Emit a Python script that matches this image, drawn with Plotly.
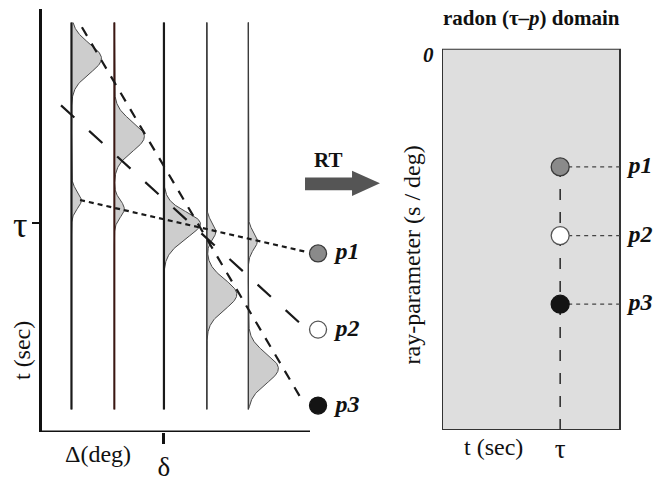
import numpy as np
import plotly.graph_objects as go

# ---------------- data ----------------
# Left panel: seismic section, offset Δ (deg) vs time t (s)
trace_offsets = [1.1, 2.7, 4.55, 6.15, 7.7]
trace_t_range = [0.52, 15.15]
p1_times = [7.23, 7.56, 8.00, 8.41, 8.77]
p1_amps = [0.37, 0.37, 0.37, 0.34, 0.34]
p3_times = [1.88, 4.83, 8.26, 10.80, 13.60]
p3_amps = [1.12, 1.12, 1.05, 1.12, 1.12]
p1_width = 0.32
p3_width = 0.56

event_names = ["p1", "p2", "p3"]
moveout_x0 = [1.42, 0.71, 1.49]
moveout_t0 = [7.23, 3.65, 0.70]
moveout_x1 = [9.81, 9.81, 9.74]
moveout_t1 = [9.18, 12.06, 14.86]
left_marker_x = 10.3
left_marker_t = [9.25, 12.13, 15.0]
left_label_x = 11.4

delta_axis_max = 10.0     # end of drawn Δ axis
t_axis_max = 16.0         # bottom of drawn t axis
tau_left = 8.11
delta = 4.55

# Right panel: radon (tau-p) domain
t_box_max = 12.2
p_box_max = 10.0
tau = 8.1
p_values = [3.1, 4.9, 6.7]
right_label_x = 13.6

# ---------------- styles ----------------
SERIF = "Liberation Serif"
marker_fill = ["#8a8a8a", "#ffffff", "#141414"]
marker_line = ["#3a3a3a", "#555555", "#141414"]
moveout_dash = ["5px,4px", "18px,20px", "10px,9px"]
trace_colors = ["#1a1a1a", "#3b1712", "#1a1a1a", "#3c3c3c", "#3c3c3c"]
trace_widths = [2.2, 2.0, 2.2, 1.3, 1.3]

W, H = 653, 482
L_PX_PER_UNIT = (310 - 42) / delta_axis_max
R_PX_PER_UNIT = (620 - 442) / t_box_max


def px(x, y):
    return x / W, 1 - y / H


fig = go.Figure()

# wavelets
t = np.arange(trace_t_range[0], trace_t_range[1] + 1e-9, 0.02)
for i, off in enumerate(trace_offsets):
    amp = (p1_amps[i] * np.exp(-0.5 * ((t - p1_times[i]) / p1_width) ** 2)
           + p3_amps[i] * np.exp(-0.5 * ((t - p3_times[i]) / p3_width) ** 2))
    xs = np.concatenate([off + amp, [off, off]])
    ys = np.concatenate([t, [t[-1], t[0]]])
    fig.add_trace(go.Scatter(x=xs, y=ys, mode="lines", fill="toself",
                             fillcolor="#cdcdcd",
                             line=dict(color="#4a4a4a", width=1),
                             xaxis="x", yaxis="y", hoverinfo="skip"))

# trace lines
for i, off in enumerate(trace_offsets):
    fig.add_trace(go.Scatter(x=[off, off], y=trace_t_range, mode="lines",
                             line=dict(color=trace_colors[i], width=trace_widths[i]),
                             xaxis="x", yaxis="y", hoverinfo="skip"))

# moveout lines
for i in range(3):
    fig.add_trace(go.Scatter(x=[moveout_x0[i], moveout_x1[i]],
                             y=[moveout_t0[i], moveout_t1[i]], mode="lines",
                             line=dict(color="#1a1a1a", width=2.2, dash=moveout_dash[i]),
                             xaxis="x", yaxis="y", hoverinfo="skip"))

# left markers and labels
fig.add_trace(go.Scatter(x=[left_marker_x] * 3, y=left_marker_t, mode="markers",
                         marker=dict(size=17, color=marker_fill,
                                     line=dict(color=marker_line, width=1.3)),
                         cliponaxis=False, xaxis="x", yaxis="y", hoverinfo="skip"))
fig.add_trace(go.Scatter(x=[left_label_x] * 3, y=left_marker_t, mode="text",
                         text=["<b><i>%s</i></b>" % n for n in event_names],
                         textfont=dict(family=SERIF, size=24, color="#111"),
                         cliponaxis=False, xaxis="x", yaxis="y", hoverinfo="skip"))

# right panel: vertical tau line
fig.add_trace(go.Scatter(x=[tau, tau], y=[p_box_max, p_values[0]], mode="lines",
                         line=dict(color="#333", width=1.6, dash="11px,12px"),
                         xaxis="x2", yaxis="y2", hoverinfo="skip"))
# horizontal dashed lines
for pv in p_values:
    fig.add_trace(go.Scatter(x=[tau, t_box_max], y=[pv, pv], mode="lines",
                             line=dict(color="#444", width=1.2, dash="4px,4px"),
                             xaxis="x2", yaxis="y2", hoverinfo="skip"))
fig.add_trace(go.Scatter(x=[tau] * 3, y=p_values, mode="markers",
                         marker=dict(size=18, color=marker_fill,
                                     line=dict(color=marker_line, width=1.3)),
                         cliponaxis=False, xaxis="x2", yaxis="y2", hoverinfo="skip"))
fig.add_trace(go.Scatter(x=[right_label_x] * 3, y=p_values, mode="text",
                         text=["<b><i>%s</i></b>" % n for n in event_names],
                         textfont=dict(family=SERIF, size=24, color="#111"),
                         cliponaxis=False, xaxis="x2", yaxis="y2", hoverinfo="skip"))

# shapes: right box, left Δ-axis line and RT arrow
arrow_pts = [(305, 182), (352, 182), (352, 175), (380, 188), (352, 201),
             (352, 195), (305, 195)]
path = "M " + " L ".join("%.4f,%.4f" % px(a, b) for a, b in arrow_pts) + " Z"
shapes = [
    dict(type="rect", xref="x2", yref="y2", x0=0, x1=t_box_max, y0=0, y1=p_box_max,
         fillcolor="#dedede", line=dict(width=2, color="#333"), layer="below"),
    dict(type="line", xref="x", yref="y", x0=-1.5 / L_PX_PER_UNIT, x1=delta_axis_max,
         y0=t_axis_max, y1=t_axis_max, line=dict(width=3, color="#111")),
    dict(type="path", xref="paper", yref="paper", path=path,
         fillcolor="#555555", line=dict(width=0)),
]


def ann(x, y, text, size, angle=0):
    xx, yy = px(x, y)
    return dict(x=xx, y=yy, xref="paper", yref="paper", text=text, showarrow=False,
                textangle=angle, xanchor="center", yanchor="middle",
                font=dict(family=SERIF, size=size, color="#111"))


annotations = [
    ann(98, 466, "Δ(deg)", 24),
    ann(22, 360, "t (sec)", 24, -90),
    ann(531, 18, "<b>radon (τ–<i>p</i>) domain</b>", 21),
    ann(328, 164, "<b>RT</b>", 21),
    ann(412, 262, "ray-parameter (s / deg)", 24, -90),
    ann(493, 458, "t (sec)", 24),
    ann(428, 56, "<b><i>0</i></b>", 21),
    # tick label for τ on the left time axis
    dict(x=0, y=tau_left, xref="x", yref="y", text="τ", showarrow=False,
         xanchor="center", yanchor="middle", xshift=-22, yshift=-2,
         font=dict(family=SERIF, size=36, color="#111")),
]

left_x_end = 372
right_x_end = 653
fig.update_layout(
    width=W, height=H, margin=dict(l=0, r=0, t=0, b=0),
    paper_bgcolor="white", plot_bgcolor="rgba(0,0,0,0)",
    showlegend=False, shapes=shapes, annotations=annotations,
    xaxis=dict(domain=[42 / W, left_x_end / W],
               range=[0, (left_x_end - 42) / L_PX_PER_UNIT], anchor="y",
               showline=False, showgrid=False,
               zeroline=False, tickvals=[delta], ticktext=["δ"], ticks="outside",
               ticklen=11, tickwidth=3, tickcolor="#111",
               tickfont=dict(family=SERIF, size=27, color="#111")),
    yaxis=dict(domain=[1 - 443 / H, 1 - 9 / H], range=[t_axis_max, 0], anchor="x",
               showline=True, linewidth=3, linecolor="#111", showgrid=False,
               zeroline=False, tickvals=[tau_left], ticktext=[""], ticks="outside",
               ticklen=7, tickwidth=2, tickcolor="#111"),
    xaxis2=dict(domain=[442 / W, right_x_end / W],
                range=[0, (right_x_end - 442) / R_PX_PER_UNIT], anchor="y2",
                showline=False, showgrid=False, zeroline=False,
                tickvals=[tau], ticktext=["τ"], ticks="",
                tickfont=dict(family=SERIF, size=27, color="#111")),
    yaxis2=dict(domain=[1 - 441 / H, 1 - 50 / H], range=[p_box_max, 0], anchor="x2",
                showline=False, showgrid=False, zeroline=False,
                showticklabels=False, ticks=""),
)

fig.write_html("out.html", config={"displayModeBar": False},
               post_script="document.body.style.margin='0px';document.body.style.padding='0px';")
